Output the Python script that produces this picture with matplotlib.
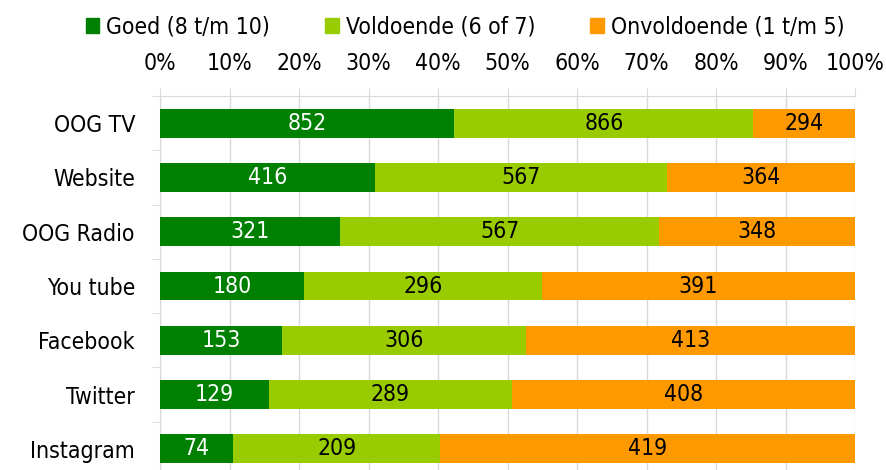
import matplotlib.pyplot as plt
import numpy as np
from matplotlib.patches import Patch

plt.rcParams['font.family'] = ['DejaVu Sans']
plt.rcParams['font.stretch'] = 'condensed'

categories = ['OOG TV', 'Website', 'OOG Radio', 'You tube', 'Facebook', 'Twitter', 'Instagram']
goed = [852, 416, 321, 180, 153, 129, 74]
voldoende = [866, 567, 567, 296, 306, 289, 209]
onvoldoende = [294, 364, 348, 391, 413, 408, 419]
series_names = ['Goed (8 t/m 10)', 'Voldoende (6 of 7)', 'Onvoldoende (1 t/m 5)']
colors = ['#008000', '#99CC00', '#FF9900']
text_colors = ['white', 'black', 'black']

vals = np.array([goed, voldoende, onvoldoende], dtype=float)
totals = vals.sum(axis=0)
shares = vals / totals

fs = 16.5

fig = plt.figure(figsize=(8.86, 4.70), dpi=100)
ax = fig.add_axes([160/886, -6/470, 695/886, 380/470])

y = np.arange(len(categories))
left = np.zeros(len(categories))
for i in range(3):
    ax.barh(y, shares[i], left=left, height=0.53, color=colors[i], zorder=3)
    for j in range(len(categories)):
        ax.text(left[j] + shares[i][j] / 2, y[j], f'{int(vals[i][j])}',
                ha='center', va='center', fontsize=fs, color=text_colors[i], zorder=4)
    left += shares[i]

ax.set_xlim(0, 1)
ax.set_ylim(len(categories) - 0.5, -0.5)
ax.xaxis.tick_top()
ax.set_xticks(np.linspace(0, 1, 11))
ax.set_xticklabels([f'{int(t)}%' for t in np.arange(0, 101, 10)], fontsize=fs)
ax.tick_params(axis='x', length=6, color='#D9D9D9', pad=9)
ax.set_yticks(y)
ax.set_yticklabels(categories, fontsize=fs)
ax.set_yticks(np.arange(-0.5, len(categories), 1), minor=True)
ax.tick_params(axis='y', which='major', length=0, pad=18)
ax.tick_params(axis='y', which='minor', length=6, color='#D9D9D9')
ax.grid(axis='x', color='#D9D9D9', linewidth=1, zorder=0)
for s in ['right', 'bottom']:
    ax.spines[s].set_visible(False)
for s in ['top', 'left']:
    ax.spines[s].set_color('#D9D9D9')

handles = [Patch(color=c) for c in colors]
fig.legend(handles, series_names, loc='center', bbox_to_anchor=(0.525, 1 - 27/470), ncol=3,
           frameon=False, fontsize=fs, handlelength=0.6, handleheight=0.6,
           handletextpad=0.3, columnspacing=2.4)

fig.savefig('out.png', dpi=100)
